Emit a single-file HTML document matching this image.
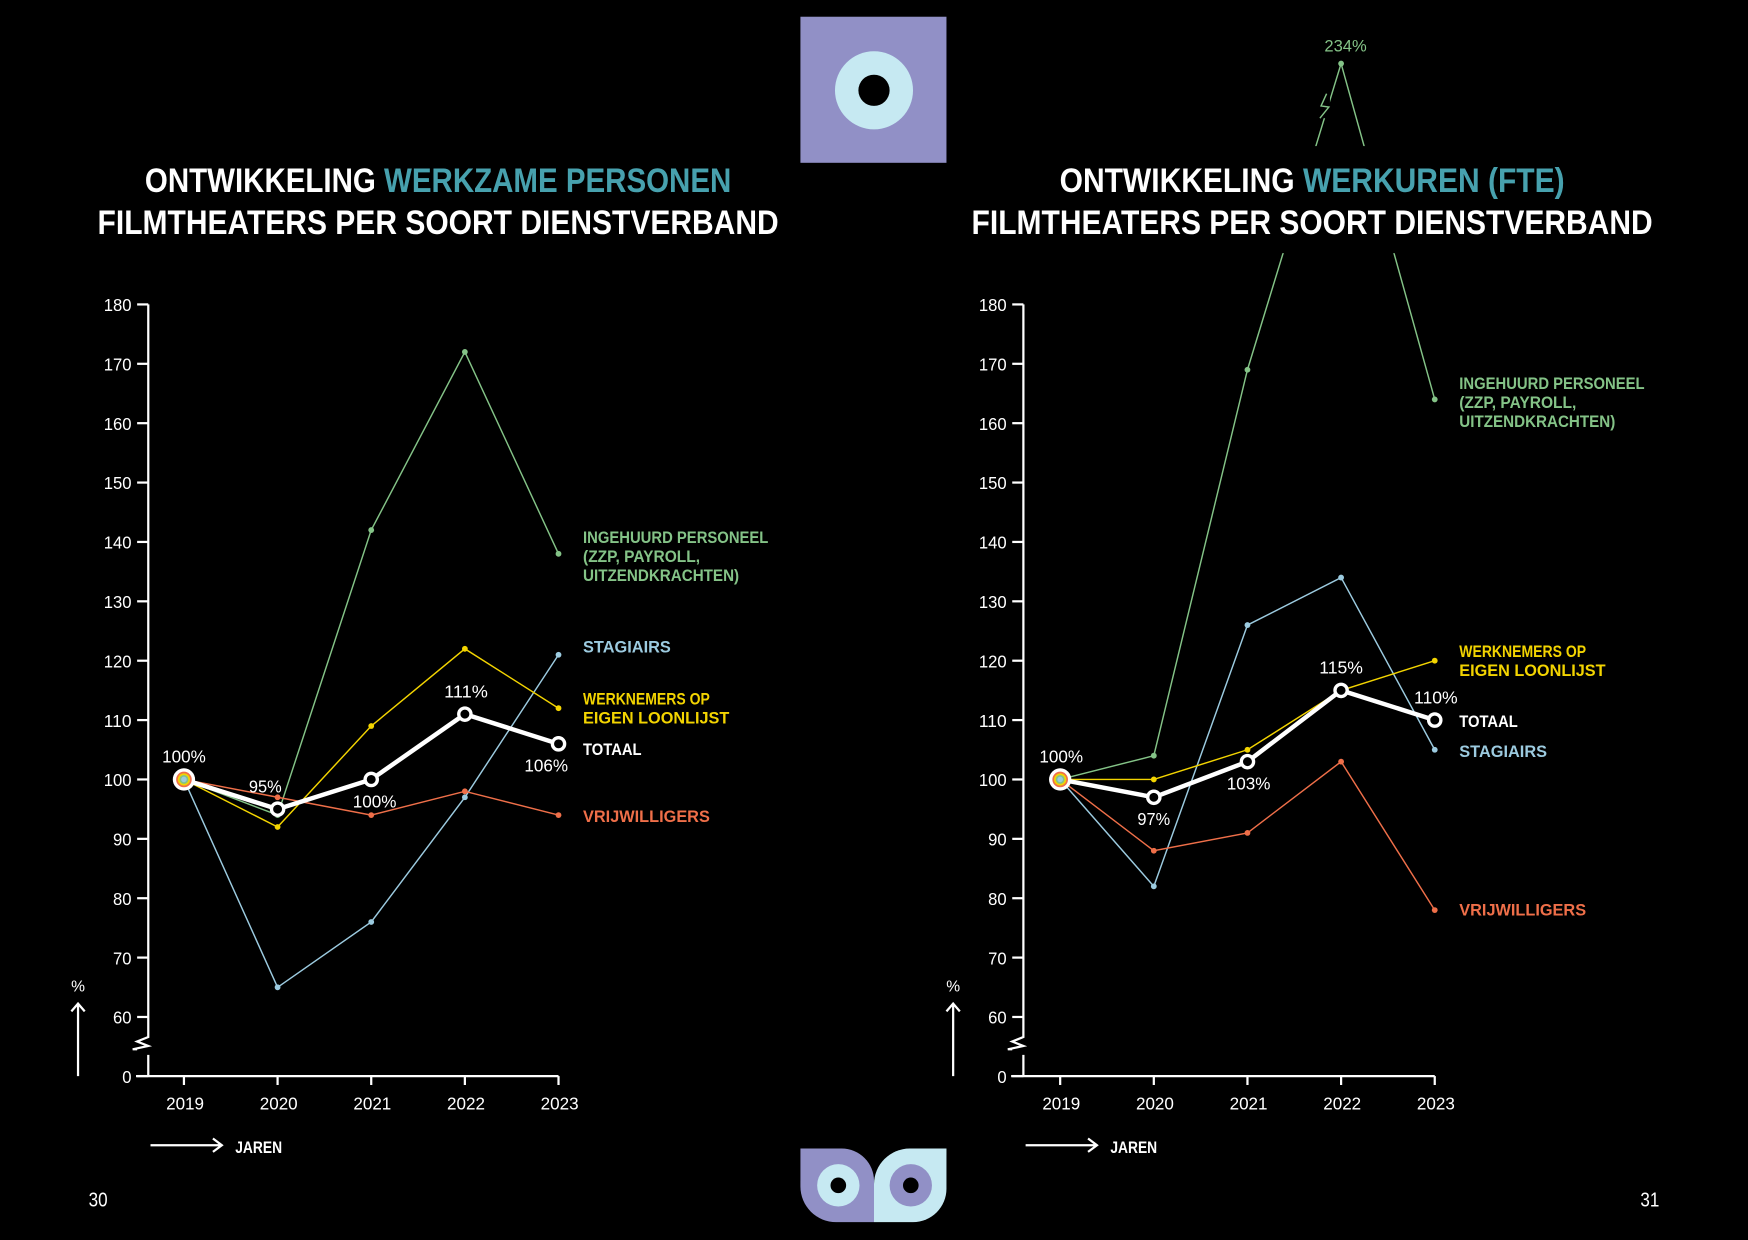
<!DOCTYPE html>
<html><head><meta charset="utf-8">
<style>
html,body{margin:0;padding:0;background:#000;}
svg{display:block;}
text{font-family:"Liberation Sans Narrow","Liberation Sans",sans-serif;}
</style></head>
<body>
<svg id="page" width="1748" height="1240" viewBox="0 0 1568 1112" preserveAspectRatio="none" xmlns="http://www.w3.org/2000/svg">
<rect x="0" y="0" width="1568" height="1112" fill="#000"/>
<g>
<rect x="718" y="15" width="131" height="131" fill="#9190c6"/>
<circle cx="784" cy="81" r="35" fill="#c6e9f2"/>
<circle cx="784" cy="81" r="14" fill="#000"/>
</g>
<g>
<path d="M718,1030 H755 A29,29 0 0 1 784,1059 V1096 H750 A32,32 0 0 1 718,1064 Z" fill="#9190c6"/>
<circle cx="752" cy="1063" r="19" fill="#c6e9f2"/><circle cx="752" cy="1063" r="7" fill="#000"/>
<path d="M784,1096 V1062 A32,32 0 0 1 816,1030 H849 V1066 A30,30 0 0 1 819,1096 Z" fill="#c6e9f2"/>
<circle cx="817" cy="1063" r="19" fill="#9190c6"/><circle cx="817" cy="1063" r="7" fill="#000"/>
</g>
<text x="88" y="1082" fill="#fff" font-size="18" text-anchor="middle" textLength="17" lengthAdjust="spacingAndGlyphs">30</text>
<text x="1480" y="1082" fill="#fff" font-size="18" text-anchor="middle" textLength="17" lengthAdjust="spacingAndGlyphs">31</text>
<g id="charts"></g>
</svg>
<script>
const years = ["2019","2020","2021","2022","2023"];
const yTicks = [0,60,70,80,90,100,110,120,130,140,150,160,170,180];
const seriesNames = ["ingehuurd","stagiairs","werknemers","vrijwilligers","totaal"];
const seriesColors = ["#84c387","#9ccbe0","#f3d400","#ef6f49","#ffffff"];

const leftIngehuurd = [100,94,142,172,138];
const leftStagiairs = [100,65,76,97,121];
const leftWerknemers = [100,92,109,122,112];
const leftVrijwilligers = [100,97,94,98,94];
const leftTotaal = [100,95,100,111,106];
const leftTotaalLabels = ["100%","95%","100%","111%","106%"];

const rightIngehuurd = [100,104,169,234,164];
const rightStagiairs = [100,82,126,134,105];
const rightWerknemers = [100,100,105,115,120];
const rightVrijwilligers = [100,88,91,103,78];
const rightTotaal = [100,97,103,115,110];
const rightTotaalLabels = ["100%","97%","103%","115%","110%"];

const NS="http://www.w3.org/2000/svg";
const root=document.getElementById('charts');
function mk(tag,attrs,parent){const e=document.createElementNS(NS,tag);for(const k in attrs)e.setAttribute(k,attrs[k]);(parent||root).appendChild(e);return e;}

function yScale(v){
  if(v>180) return 57; // off-scale peak drawn at top (broken axis)
  if(v<60) return 965 - v*(53/60);
  return 912 - (v-60)*(639/120);
}
function lineLen(ln){ return ln.startsWith('(') ? ln.length*7.5 : ln.length*8.75; }

function drawChart(cfg){
  const g=mk('g',{});
  
  
  const xs=i=>cfg.x0+ i*84;
  const ax=cfg.ax;
  cfg.series.forEach((vals,si)=>{
    const col=seriesColors[si];
    const tot=si===4;
    const pts=vals.map((v,i)=>[xs(i),yScale(v)]);
    const pl=mk('polyline',{points:pts.map(p=>p.join(',')).join(' '),fill:'none',stroke:col,'stroke-width':tot?4:1.3},g);
    
    
    pts.forEach((p,i)=>{
      if(i===0) return;
      const c=tot?mk('circle',{cx:p[0],cy:p[1],r:5.5,fill:'#000',stroke:'#fff','stroke-width':3},g):mk('circle',{cx:p[0],cy:p[1],r:2.6,fill:col},g);
      
      
    });
  });
  if(cfg.breakPeak){
    mk('rect',{x:cfg.cx-110,y:131,width:220,height:96,fill:'#000'},g);
    const px=xs(3);
    mk('rect',{x:px-22,y:84,width:12,height:22,fill:'#000'},g);
    mk('path',{d:`M${px-13},84 L${px-18},95 L${px-11},96 L${px-19},106`,fill:'none',stroke:seriesColors[0],'stroke-width':1.3},g);
    const pl=mk('text',{x:px+4,y:46,'font-size':15,fill:seriesColors[0],'text-anchor':'middle',textLength:38,lengthAdjust:'spacingAndGlyphs'},g);
    
    
    pl.textContent=cfg.series[0][3]+'%';
  }
  const t1=mk('text',{x:cfg.cx,y:172,'font-size':31,'font-weight':'bold','text-anchor':'middle',fill:'#fff',textLength:cfg.t1len,lengthAdjust:'spacingAndGlyphs'},g);
  
  
  t1.innerHTML='ONTWIKKELING <tspan fill="#47a1ae">'+cfg.titleHi+'</tspan>';
  const t2=mk('text',{x:cfg.cx,y:210,'font-size':31,'font-weight':'bold','text-anchor':'middle',fill:'#fff',textLength:611,lengthAdjust:'spacingAndGlyphs'},g);
  
  
  t2.textContent='FILMTHEATERS PER SOORT DIENSTVERBAND';
  const yaxis=mk('path',{d:`M${ax},273 V930 l-10,4 l10,4 l-14,3 h4 M${ax},946 V965`,stroke:'#fff','stroke-width':2,fill:'none'},g);
  
  
  const xaxis=mk('line',{x1:ax-11,y1:965,x2:xs(4),y2:965,stroke:'#fff','stroke-width':2},g);
  
  
  yTicks.forEach(v=>{
    const y=yScale(v);
    mk('line',{x1:ax-10,y1:y,x2:ax,y2:y,stroke:'#fff','stroke-width':2},g);
    const s=String(v);
    const tl=mk('text',{x:ax-15,y:y+6,'font-size':16,fill:'#fff','text-anchor':'end',textLength:s.length*8.3,lengthAdjust:'spacingAndGlyphs'},g);
    
    
    tl.textContent=s;
  });
  years.forEach((yr,i)=>{
    mk('line',{x1:xs(i),y1:965,x2:xs(i),y2:973,stroke:'#fff','stroke-width':2},g);
    const tl=mk('text',{x:xs(i)+1,y:995,'font-size':16,fill:'#fff','text-anchor':'middle',textLength:34,lengthAdjust:'spacingAndGlyphs'},g);
    
    
    tl.textContent=yr;
  });
  mk('path',{d:`M${ax-63},965 V900 M${ax-69},907 L${ax-63},900 L${ax-57},907`,stroke:'#fff','stroke-width':2,fill:'none'},g);
  const pc=mk('text',{x:ax-63,y:889,'font-size':14,fill:'#fff','text-anchor':'middle'},g);
  
  
  pc.textContent='%';
  mk('path',{d:`M${ax+2},1027 H${ax+66} M${ax+58},1021 L${ax+66},1027 L${ax+58},1033`,stroke:'#fff','stroke-width':2,fill:'none'},g);
  const jr=mk('text',{x:ax+78,y:1034,'font-size':15,'font-weight':'bold',fill:'#fff',textLength:42,lengthAdjust:'spacingAndGlyphs'},g);
  
  
  jr.textContent='JAREN';
  const sx=xs(0),sy=yScale(100);
  const sm=mk('g',{},g);
  
  
  [[10,'#fff'],[7,'#ef6f49'],[5.5,'#f3d400'],[4,'#84c387'],[2.5,'#9ccbe0']].forEach(a=>mk('circle',{cx:sx,cy:sy,r:a[0],fill:a[1]},sm));
  cfg.labels.forEach((lab,i)=>{
    const p=[xs(i),yScale(cfg.series[4][i])];
    const below=cfg.below[i];
    const tl=mk('text',{x:p[0]+(cfg.dx[i]||0),y:below?p[1]+25:p[1]-15,'font-size':16,fill:'#fff','text-anchor':'middle',textLength:lab.length*9.8,lengthAdjust:'spacingAndGlyphs'},g);
    
    
    tl.textContent=lab;
  });
  cfg.legend.forEach(L=>{
    const tl=mk('text',{x:cfg.lx,y:L.y,'font-size':15,'font-weight':'bold',fill:seriesColors[L.s]},g);
    
    
    L.lines.forEach((ln,k)=>{const ts=mk('tspan',{x:cfg.lx,dy:k?17:0,textLength:lineLen(ln),lengthAdjust:'spacingAndGlyphs'},tl);ts.textContent=ln;});
  });
}

drawChart({name:'chart-werkzame-personen',cx:393,ax:133,x0:165,titleHi:'WERKZAME PERSONEN',t1len:526,
  series:[leftIngehuurd,leftStagiairs,leftWerknemers,leftVrijwilligers,leftTotaal],
  labels:leftTotaalLabels,below:[false,false,true,false,true],dx:[0,-11,3,1,-11],lx:523,
  legend:[{s:0,y:487,lines:['INGEHUURD PERSONEEL','(ZZP, PAYROLL,','UITZENDKRACHTEN)']},{s:1,y:585,lines:['STAGIAIRS']},
    {s:2,y:632,lines:['WERKNEMERS OP','EIGEN LOONLIJST']},{s:4,y:677,lines:['TOTAAL']},{s:3,y:737,lines:['VRIJWILLIGERS']}]});
drawChart({name:'chart-werkuren-fte',cx:1177,ax:918,x0:951,titleHi:'WERKUREN (FTE)',t1len:453,breakPeak:true,
  series:[rightIngehuurd,rightStagiairs,rightWerknemers,rightVrijwilligers,rightTotaal],
  labels:rightTotaalLabels,below:[false,true,true,false,false],dx:[1,0,1,0,1],lx:1309,
  legend:[{s:0,y:349,lines:['INGEHUURD PERSONEEL','(ZZP, PAYROLL,','UITZENDKRACHTEN)']},{s:2,y:589,lines:['WERKNEMERS OP','EIGEN LOONLIJST']},
    {s:4,y:652,lines:['TOTAAL']},{s:1,y:679,lines:['STAGIAIRS']},{s:3,y:821,lines:['VRIJWILLIGERS']}]});
</script>
</body></html>
